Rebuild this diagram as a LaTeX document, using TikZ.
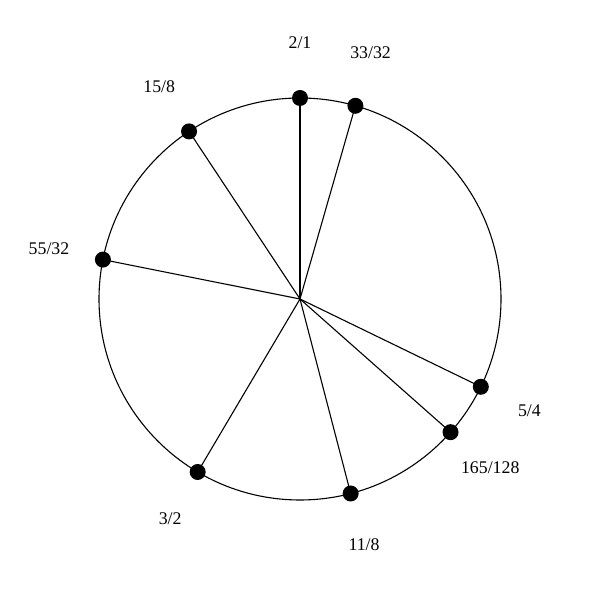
\documentclass[tikz,border=0pt]{standalone}
\usepackage{fontspec}
\setmainfont{Liberation Serif}
\usetikzlibrary{calc}
\begin{document}
\begin{tikzpicture}[x=1pt,y=1pt,
  dot/.style={circle,fill=black,inner sep=0pt,minimum size=16pt},
  lab/.style={font=\fontsize{17.8}{20}\selectfont,inner sep=0pt},
  spoke/.style={line width=1.1pt}]
\useasboundingbox (0,0) rectangle (600,600);
\coordinate (ctr) at (300,301);
\draw[line width=1.1pt] (ctr) circle (201);
\foreach \n/\ang/\t/\lr in {a/90/2\slash 1/256, b/74.0/33\slash 32/256, c5/-25.9/5\slash 4/255, d/-41.5/165\slash 128/254, e/-75.4/11\slash 8/254, f/-120.6/3\slash 2/255, g/168.7/55\slash 32/256, h/123.5/15\slash 8/255}{
  \node[dot] (\n) at ($(ctr)+(\ang:201)$) {};
  \draw[spoke] (ctr) -- (\n.center);
  \node[lab] (l\n) at ($(ctr)+(\ang:\lr)$) {\t};
}
\end{tikzpicture}
\end{document}
